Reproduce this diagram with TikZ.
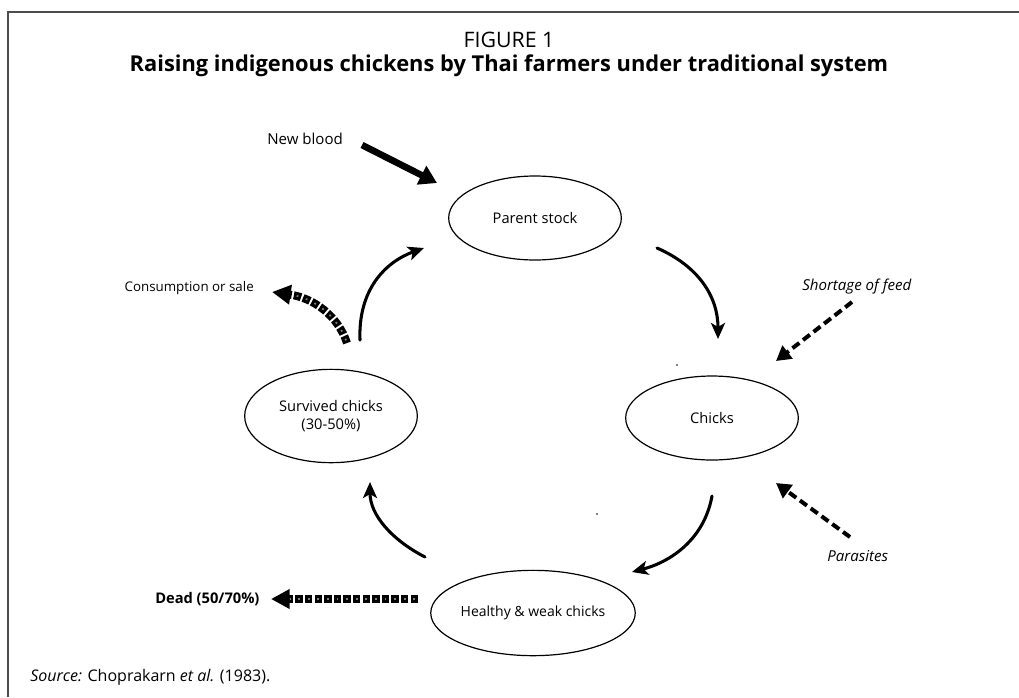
\documentclass[tikz,border=0pt]{standalone}
\usepackage{fontspec}
\setmainfont{Open Sans}
\usetikzlibrary{arrows.meta,shapes.geometric}
\begin{document}
\begin{tikzpicture}[x=0.75pt,y=-0.75pt,
  stage/.style={ellipse,draw,line width=0.9pt,minimum width=129.5pt,minimum height=63pt,
    inner sep=0pt,align=center,font=\fontsize{11}{14}\selectfont},
  lbl/.style={font=\fontsize{11.3}{14}\selectfont,inner sep=0pt,anchor=west},
  flow/.style={line width=2.3pt,line cap=round,-{Stealth[length=12pt,width=10.5pt,inset=3pt]}},
  pest/.style={line width=3pt,dash pattern=on 6.5pt off 3.5pt,-{Triangle[length=11pt,width=12pt]}},
  loss/.style={line width=6pt,dash pattern=on 5.6pt off 1.6pt,-{Triangle[length=14pt,width=14pt]},
    postaction={draw,-,black!50,line width=1.3pt,dash pattern=on 1.3pt off 5.9pt,dash phase=5.05pt,shorten >=14pt}},
  inflow/.style={line width=5pt,-{Triangle[length=13pt,width=15pt]}},
  frame/.style={draw=black!70,line width=0.9pt}]
\useasboundingbox (0,0) rectangle (1019,697);
\fill[white] (0,0) rectangle (1019,697);
% page frame
\draw[frame] (8,697) -- (8,12) -- (1019,12);

% headings
\node[inner sep=0pt,font=\fontsize{16}{19}\selectfont] (fig) at (509,40) {FIGURE 1};
\node[inner sep=0pt,font=\fontsize{16.4}{19}\selectfont\bfseries] (title) at (509,66)
  {Raising indigenous chickens by Thai farmers under traditional system};

% life stages
\node[stage] (parent) at (535,218) {Parent stock};
\node[stage] (chicks) at (712,418) {Chicks};
\node[stage,minimum height=70pt] (surv) at (331,416) {Survived chicks\\(30-50\%)};
\node[stage,minimum height=64pt,font=\fontsize{10.5}{13}\selectfont] (healthy) at (533,613) {Healthy \& weak chicks};

% outside influences
\node[lbl] (newblood) at (267,139) {New blood};
\node[lbl,anchor=east,font=\fontsize{10}{13}\selectfont] (consume) at (254,288) {Consumption or sale};
\node[lbl,font=\fontsize{11.3}{14}\selectfont\itshape] (feed) at (802,287) {Shortage of feed};
\node[lbl,font=\fontsize{11.3}{14}\selectfont\itshape] (parasites) at (827,556) {Parasites};
\node[lbl,font=\fontsize{11}{14}\selectfont\bfseries] (dead) at (155,599) {Dead (50/70\%)};
\node[lbl,font=\fontsize{12}{15}\selectfont] (source) at (30,677) {\textit{Source:} Choprakarn \textit{et al.} (1983).};

% arrow end points
\coordinate (nb1) at (362,145);  \coordinate (nb2) at (437,183);
\coordinate (pc1) at (657,248);  \coordinate (pc2) at (718,339);
\coordinate (ch1) at (712,496);  \coordinate (ch2) at (632,572);
\coordinate (hs1) at (425,557);  \coordinate (hs2) at (370,482);
\coordinate (sp1) at (360,340);  \coordinate (sp2) at (424,248);
\coordinate (cs1) at (347,343);  \coordinate (cs2) at (272,292);
\coordinate (dd1) at (418,599);  \coordinate (dd2) at (271,599);
\coordinate (sf1) at (852,302);  \coordinate (sf2) at (776,361);
\coordinate (pa1) at (850,537);  \coordinate (pa2) at (776,483);

% breeding cycle
\draw[flow] (pc1) .. controls (698,266) and (718,296) .. (pc2);
\draw[flow] (ch1) .. controls (704,540) and (670,562) .. (ch2);
\draw[flow] (hs1) .. controls (392,540) and (370,515) .. (hs2);
\draw[flow] (sp1) .. controls (358,290) and (385,262) .. (sp2);

% gains and losses
\draw[inflow] (nb1) -- (nb2);
\draw[loss] (cs1) .. controls (338,316) and (314,298) .. (cs2);
\draw[loss] (dd1) -- (dd2);
\draw[pest] (sf1) -- (sf2);
\draw[pest] (pa1) -- (pa2);

% specks
\fill (677,365) circle (0.7pt);
\fill (597,514) circle (0.7pt);
\end{tikzpicture}
\end{document}
